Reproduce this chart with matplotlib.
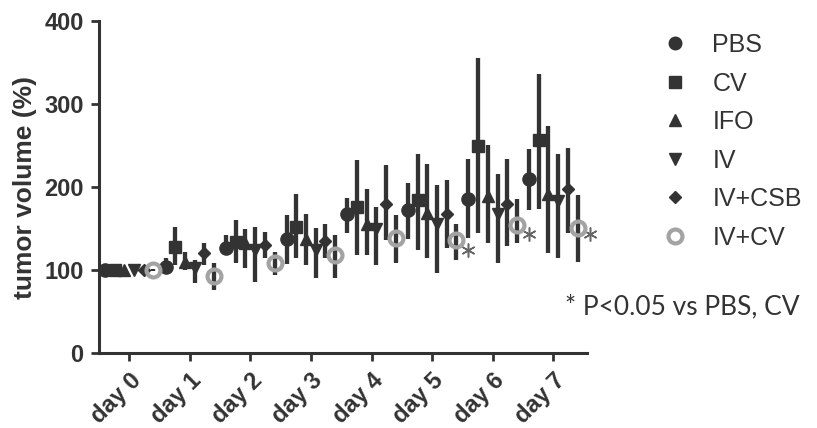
import matplotlib
matplotlib.use('Agg')
import matplotlib.pyplot as plt
from matplotlib.lines import Line2D
import numpy as np

plt.rcParams['font.family'] = ['Liberation Sans', 'DejaVu Sans']

days = [0, 1, 2, 3, 4, 5, 6, 7]
day_labels = ['day 0', 'day 1', 'day 2', 'day 3', 'day 4', 'day 5', 'day 6', 'day 7']
groups = ['PBS', 'CV', 'IFO', 'IV', 'IV+CSB', 'IV+CV']

# mean and upper/lower ends of the error bars (tumor volume %)
pbs_mean = [100, 104, 127, 138, 168, 172, 186, 210]
pbs_hi = [101, 114, 142, 166, 187, 205, 234, 246]
pbs_lo = [99, 95, 118, 107, 145, 138, 139, 172]

cv_mean = [100, 128, 134, 152, 176, 184, 250, 257]
cv_hi = [101, 152, 160, 192, 232, 240, 356, 336]
cv_lo = [99, 106, 108, 114, 118, 124, 145, 174]

ifo_mean = [100, 110, 132, 138, 156, 169, 189, 192]
ifo_hi = [101, 122, 150, 168, 198, 228, 251, 273]
ifo_lo = [99, 100, 102, 106, 118, 114, 132, 120]

iv_mean = [100, 103, 124, 124, 150, 156, 168, 183]
iv_hi = [102, 112, 152, 151, 176, 202, 216, 240]
iv_lo = [98, 85, 86, 91, 106, 97, 108, 114]

csb_mean = [100, 120, 130, 135, 179, 168, 180, 198]
csb_hi = [101, 132, 146, 156, 226, 209, 234, 247]
csb_lo = [99, 106, 114, 115, 136, 127, 129, 145]

ivcv_mean = [100, 93, 108, 118, 139, 136, 154, 151]
ivcv_hi = [101, 108, 122, 142, 166, 156, 185, 191]
ivcv_lo = [99, 76, 94, 91, 109, 112, 133, 110]

# significance marks (day, y)
star_days = [5, 6, 7]
star_y = [124, 144, 144]

means = [pbs_mean, cv_mean, ifo_mean, iv_mean, csb_mean, ivcv_mean]
his = [pbs_hi, cv_hi, ifo_hi, iv_hi, csb_hi, ivcv_hi]
los = [pbs_lo, cv_lo, ifo_lo, iv_lo, csb_lo, ivcv_lo]

dark = '#333333'
grey = '#a3a3a3'
offsets = [-0.4, -0.24, -0.08, 0.08, 0.24, 0.4]
markers = ['o', 's', '^', 'v', 'D', 'o']
msizes = [9.5, 9, 8.5, 8.5, 6.5, 10]

fig = plt.figure(figsize=(8.17, 4.28), dpi=100)
ax = fig.add_axes([0.121, 0.175, 0.597, 0.776])

for i in range(6):
    x = np.array(days) + offsets[i]
    m = np.array(means[i])
    err = [m - np.array(los[i]), np.array(his[i]) - m]
    if i == 5:
        ax.errorbar(x, m, yerr=err, fmt='o', ms=msizes[i], mfc='none', mec=grey, mew=3,
                    ecolor=dark, elinewidth=3.1, capsize=0, zorder=3)
    else:
        ax.errorbar(x, m, yerr=err, fmt=markers[i], ms=msizes[i], mfc=dark, mec=dark,
                    ecolor=dark, elinewidth=3.1, capsize=0, zorder=2)

ax.plot(np.array(star_days) + 0.6, star_y, ls='none', marker=(6, 2, 0), ms=10,
        mec='#666666', mew=1.1, clip_on=False)

ax.set_xlim(-0.5, 7.55)
ax.set_ylim(0, 400)
ax.set_yticks([0, 100, 200, 300, 400])
ax.set_xticks(days)
ax.set_xticklabels(day_labels, rotation=45, ha='right', rotation_mode='anchor')
for lab in ax.get_xticklabels():
    lab.set_fontsize(17)
    lab.set_fontweight('bold')
    lab.set_color(dark)
for lab in ax.get_yticklabels():
    lab.set_fontsize(17)
    lab.set_fontweight('bold')
    lab.set_color(dark)

for s in ['top', 'right']:
    ax.spines[s].set_visible(False)
for s in ['left', 'bottom']:
    ax.spines[s].set_linewidth(2.2)
    ax.spines[s].set_color(dark)
ax.tick_params(axis='both', direction='out', length=6, width=2, color=dark, pad=5)

ax.set_ylabel('tumor volume (%)', fontsize=19, fontweight='bold', color=dark, labelpad=5)

handles = []
for i in range(6):
    if i == 5:
        h = Line2D([], [], ls='none', marker='o', ms=10, mfc='none', mec=grey, mew=3)
    else:
        h = Line2D([], [], ls='none', marker=markers[i], ms=msizes[i] * 0.95, mfc=dark, mec=dark)
    handles.append(h)
fig.legend(handles, groups, loc='upper left', bbox_to_anchor=(0.78, 0.975), frameon=False,
           fontsize=18, labelspacing=0.58, handlelength=1.2, handletextpad=0.9,
           labelcolor=dark)

fig.text(0.692, 0.283, '* P<0.05 vs PBS, CV', fontsize=19, color=dark,
         family=['Lato', 'DejaVu Sans'], ha='left', va='center')

fig.savefig('out.png', dpi=100)
